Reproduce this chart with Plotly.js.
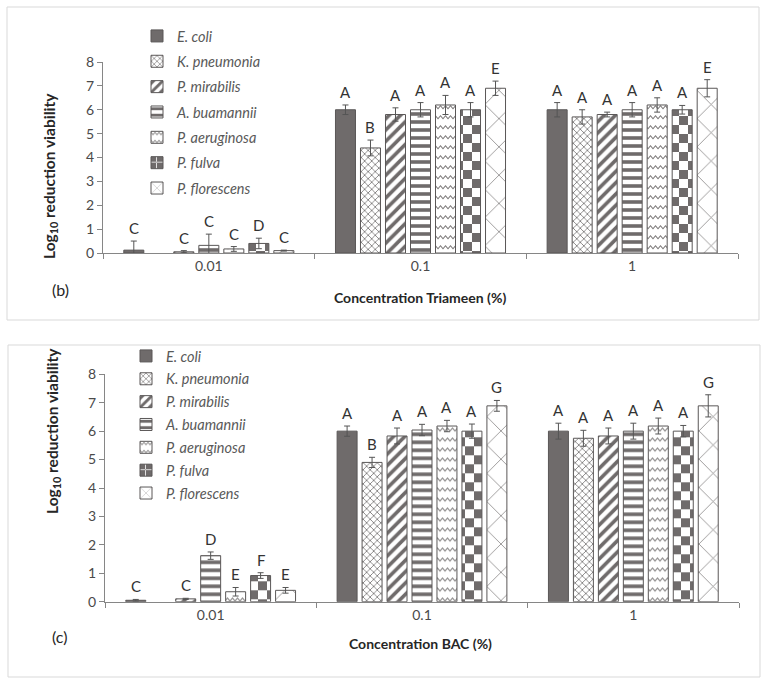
<!DOCTYPE html>
<html><head><meta charset="utf-8">
<script src="https://cdn.plot.ly/plotly-3.0.1.min.js"></script>
<style>body{margin:0;background:#fff}#chart{width:766px;height:680px}</style>
</head><body><div id="chart"></div>
<script>
// ---------- data ----------
const categories = ['0.01', '0.1', '1'];
const species = ['E. coli', 'K. pneumonia', 'P. mirabilis', 'A. buamannii', 'P. aeruginosa', 'P. fulva', 'P. florescens'];

// Panel (b): Triameen — values per concentration, in species order
const triVals001 = [0.12, null, 0.05, 0.32, 0.17, 0.40, 0.10];
const triErr001  = [0.38, 0, 0.05, 0.47, 0.10, 0.22, 0.02];
const triLet001  = ['C', '', 'C', 'C', 'C', 'D', 'C'];
const triVals01  = [6.0, 4.4, 5.8, 6.0, 6.2, 6.0, 6.9];
const triErr01   = [0.2, 0.33, 0.28, 0.3, 0.4, 0.3, 0.3];
const triLet01   = ['A', 'B', 'A', 'A', 'A', 'A', 'E'];
const triVals1   = [6.0, 5.7, 5.8, 6.0, 6.2, 6.0, 6.9];
const triErr1    = [0.3, 0.3, 0.1, 0.3, 0.3, 0.18, 0.36];
const triLet1    = ['A', 'A', 'A', 'A', 'A', 'A', 'E'];

// Panel (c): BAC
const bacVals001 = [0.05, null, 0.1, 1.62, 0.35, 0.92, 0.4];
const bacErr001  = [0.03, 0, 0.02, 0.13, 0.15, 0.1, 0.1];
const bacLet001  = ['C', '', 'C', 'D', 'E', 'F', 'E'];
const bacVals01  = [6.0, 4.9, 5.83, 6.04, 6.18, 6.0, 6.89];
const bacErr01   = [0.18, 0.18, 0.28, 0.2, 0.2, 0.25, 0.19];
const bacLet01   = ['A', 'B', 'A', 'A', 'A', 'A', 'G'];
const bacVals1   = [6.0, 5.75, 5.83, 6.0, 6.18, 6.0, 6.89];
const bacErr1    = [0.28, 0.28, 0.28, 0.28, 0.28, 0.2, 0.39];
const bacLet1    = ['A', 'A', 'A', 'A', 'A', 'A', 'G'];

const yTickVals = [0, 1, 2, 3, 4, 5, 6, 7, 8];

// ---------- styles ----------
const DARK = '#6f6b6b';
const patterns = [
  null,
  {shape: 'x', size: 5, solidity: 0.3, fgcolor: '#7a7777', bgcolor: '#ffffff'},
  {shape: '/', size: 8, solidity: 0.45, fgcolor: DARK, bgcolor: '#ffffff'},
  {shape: '-', size: 8, solidity: 0.45, fgcolor: DARK, bgcolor: '#ffffff'},
  {path: 'M0,6 L2.5,3 L5,6 L7.5,3 L10,6 L10,7.6 L7.5,4.6 L5,7.6 L2.5,4.6 L0,7.6 Z', size: 10, solidity: 0.3, fgcolor: '#7a7777', bgcolor: '#ffffff'},
  {path: 'M0,0 H9 V9 H0 Z M9,9 H18 V18 H9 Z', size: 18, solidity: 0.5, fgcolor: DARK, bgcolor: '#ffffff'},
  {shape: 'x', size: 20, solidity: 0.08, fgcolor: '#8a8787', bgcolor: '#ffffff'}
];

const panels = [
  {xa: 'x', ya: 'y', legend: 'legend', vals: [triVals001, triVals01, triVals1], errs: [triErr001, triErr01, triErr1], lets: [triLet001, triLet01, triLet1]},
  {xa: 'x2', ya: 'y2', legend: 'legend2', vals: [bacVals001, bacVals01, bacVals1], errs: [bacErr001, bacErr01, bacErr1], lets: [bacLet001, bacLet01, bacLet1]}
];

const BARGAP = 0.173;
const traces = [];
const annotations = [];
panels.forEach((p, pi) => {
  species.forEach((sp, i) => {
    const marker = {color: i === 0 ? DARK : '#ffffff', line: {color: '#5a5757', width: 1}};
    if (patterns[i]) marker.pattern = patterns[i];
    traces.push({
      type: 'bar', name: sp, x: categories,
      y: p.vals.map(v => v[i]),
      error_y: {type: 'data', array: p.errs.map(e => e[i]), visible: true, color: '#555', thickness: 1, width: 3},
      marker: marker, xaxis: p.xa, yaxis: p.ya, legend: p.legend, legendgroup: p.legend + i,
      hoverinfo: 'skip'
    });
    const w = 1 - BARGAP;
    categories.forEach((c, j) => {
      const t = p.lets[j][i];
      if (!t) return;
      annotations.push({
        xref: p.xa, yref: p.ya, x: j - w / 2 + (i + 0.5) * w / 7,
        y: p.vals[j][i] + p.errs[j][i], text: t, showarrow: false,
        xanchor: 'center', yanchor: 'bottom', yshift: 2,
        font: {family: 'Lato, sans-serif', size: 15, color: '#333333'}
      });
    });
  });
});

const tickFont = {family: 'Lato, sans-serif', size: 14, color: '#4a4a4a'};
function xAxis(domain, anchor) {
  return {domain: domain, anchor: anchor, type: 'category', showline: true, linecolor: '#868686', linewidth: 1,
    ticks: 'outside', tickson: 'boundaries', ticklen: 5, tickcolor: '#868686', tickfont: tickFont,
    showgrid: false, zeroline: false, fixedrange: true};
}
function yAxis(domain, anchor) {
  return {domain: domain, anchor: anchor, range: [0, 8], tickvals: yTickVals, showline: true, linecolor: '#868686', linewidth: 1,
    ticks: 'outside', ticklen: 5, tickcolor: '#868686', tickfont: tickFont, showgrid: false, zeroline: false, fixedrange: true};
}

const titleFont = {family: 'Lato, sans-serif', size: 14, color: '#262626'};
const yTitleFont = {family: 'Lato, sans-serif', size: 15.5, color: '#262626'};
const labelFont = {family: 'Lato, sans-serif', size: 16, color: '#262626'};
function paperNote(px, py, text, font, angle) {
  return {xref: 'paper', yref: 'paper', x: px / 766, y: 1 - py / 680, text: text, showarrow: false,
    xanchor: 'center', yanchor: 'middle', textangle: angle || 0, font: font};
}
annotations.push(
  paperNote(420, 297, '<b>Concentration Triameen (%)</b>', titleFont),
  paperNote(420, 643, '<b>Concentration BAC (%)</b>', titleFont),
  paperNote(50, 176, '<b>Log<sub>10</sub> reduction viability</b>', yTitleFont, -90),
  paperNote(53, 431, '<b>Log<sub>10</sub> reduction viability</b>', yTitleFont, -90),
  paperNote(60, 289, '(b)', labelFont),
  paperNote(59, 636, '(c)', labelFont)
);

const legendFont = {family: 'Lato, sans-serif', size: 14.5, color: '#595959', style: 'italic'};
const layout = {
  width: 766, height: 680, margin: {l: 0, r: 0, t: 0, b: 0},
  paper_bgcolor: '#ffffff', plot_bgcolor: 'rgba(0,0,0,0)',
  barmode: 'group', bargap: BARGAP, bargroupgap: 0.2,
  showlegend: true,
  xaxis: xAxis([103 / 766, 738 / 766], 'y'),
  yaxis: yAxis([1 - 253 / 680, 1 - 62 / 680], 'x'),
  xaxis2: xAxis([105 / 766, 739 / 766], 'y2'),
  yaxis2: yAxis([1 - 601.7 / 680, 1 - 374.3 / 680], 'x2'),
  legend: {x: 137 / 766, y: 1 - 20 / 680, xanchor: 'left', yanchor: 'top', bgcolor: 'rgba(0,0,0,0)', font: legendFont, tracegroupgap: 3.5, traceorder: 'grouped'},
  legend2: {x: 126 / 766, y: 1 - 340 / 680, xanchor: 'left', yanchor: 'top', bgcolor: 'rgba(0,0,0,0)', font: legendFont, tracegroupgap: 1, traceorder: 'grouped'},
  annotations: annotations,
  shapes: [
    {type: 'rect', xref: 'paper', yref: 'paper', x0: 7 / 766, x1: 759 / 766, y0: 1 - 320 / 680, y1: 1 - 7 / 680, line: {color: '#d9d9d9', width: 1}},
    {type: 'rect', xref: 'paper', yref: 'paper', x0: 8 / 766, x1: 760 / 766, y0: 1 - 677 / 680, y1: 1 - 345 / 680, line: {color: '#d9d9d9', width: 1}}
  ]
};

Plotly.newPlot('chart', traces, layout, {displayModeBar: false, staticPlot: true});
</script>
</body></html>
